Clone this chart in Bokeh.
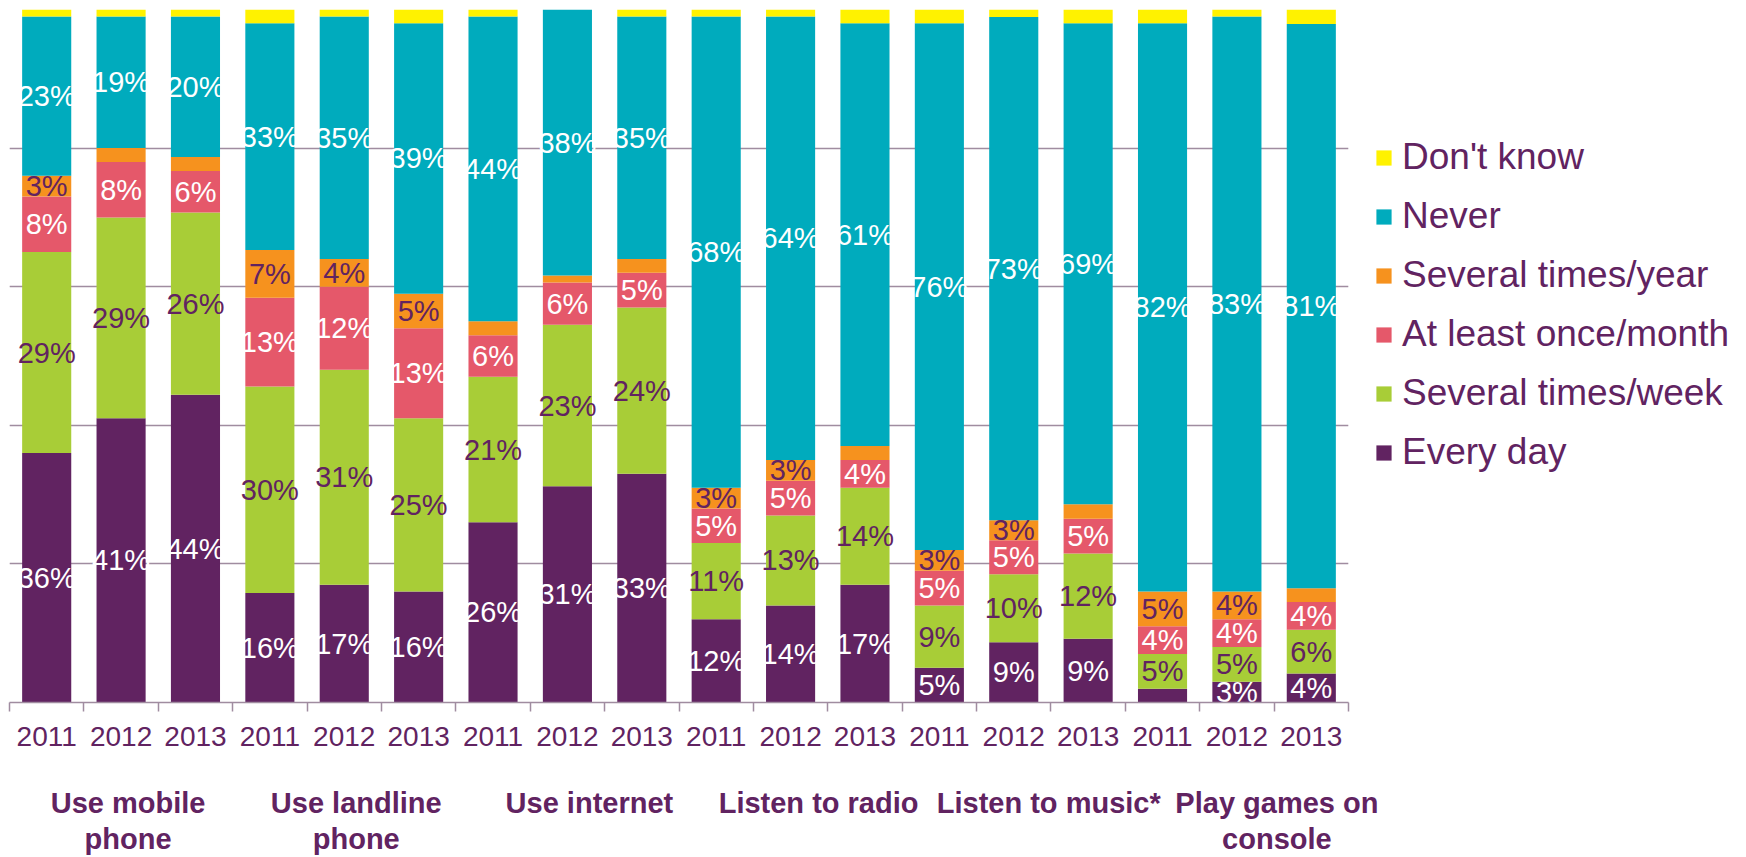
import numpy as np
from bokeh.plotting import figure
from bokeh.models import ColumnDataSource, Range1d, LinearAxis, FixedTicker, Legend, LegendItem, Grid
from bokeh.embed import file_html
from bokeh.resources import INLINE
from bokeh.core.properties import value

# ---------------- data ----------------
groups = ["Use mobile\nphone", "Use landline\nphone", "Use internet",
          "Listen to radio", "Listen to music*", "Play games on\nconsole"]
years = ["2011", "2012", "2013"]

series_names = ["Every day", "Several times/week", "At least once/month",
                "Several times/year", "Never", "Don't know"]

every_day      = [36, 41, 44.4, 15.8, 17, 16, 26, 31.2, 33, 12, 14, 17, 5, 8.7, 9.2, 2, 3, 4.2]
several_week   = [29, 29, 26.3, 29.8, 31, 25, 21, 23.3, 24, 11, 13, 14, 9, 9.8, 12.3, 5, 5, 6.3]
at_least_month = [8, 8, 6, 12.8, 12, 13, 6, 6.1, 5, 5, 5, 4, 5, 4.9, 5, 4, 4, 4]
several_year   = [3, 2, 2, 6.9, 4, 5, 2, 1, 2, 3, 3, 2, 3, 2.9, 2.1, 5, 4, 2]
never          = [23, 19, 20.3, 32.7, 35, 39, 44, 38.4, 35, 68, 64, 61, 76, 72.6, 69.4, 82, 83, 81.4]
dont_know      = [1, 1, 1, 2, 1, 2, 1, 0, 1, 1, 1, 2, 2, 1.1, 2, 2, 1, 2.1]

# ---------------- styling ----------------
PURPLE = "#612361"
colors = ["#612361", "#a8cd37", "#e5586a", "#f6921e", "#00abbd", "#fff200"]
label_colors = ["white", PURPLE, "white", PURPLE, "white", None]
GRID = "#a08ca0"
FONT = "Liberation Sans"

series = [every_day, several_week, at_least_month, several_year, never, dont_know]
keys = ["s%d" % i for i in range(len(series))]

n = len(every_day)
centers = [i + 0.5 for i in range(n)]
bounds = [float(i) for i in range(n + 1)]

data = dict(x=centers)
for k, s in zip(keys, series):
    data[k] = s
src = ColumnDataSource(data)

# data labels (shown for values of 3% and more)
lx, ly, lt, lc = [], [], [], []
bottom = np.zeros(n)
for s, c in zip(series, label_colors):
    s = np.array(s, dtype=float)
    for i in range(n):
        if c is not None and round(s[i]) >= 3:
            lx.append(centers[i])
            ly.append(float(bottom[i] + s[i] / 2))
            lt.append(f"{int(round(s[i]))}%")
            lc.append(c)
    bottom += s
lsrc = ColumnDataSource(dict(x=lx, y=ly, text=lt, color=lc))

FRAME_W = 1339
p = figure(frame_width=FRAME_W, height=857,
           x_range=Range1d(0, n), y_range=Range1d(0, 100),
           output_backend="svg", toolbar_location=None,
           y_axis_location=None,
           min_border_left=9, min_border_top=9, min_border_right=390, min_border_bottom=0)
p.outline_line_color = None
p.background_fill_color = "white"
p.xgrid.grid_line_color = None

ygrid = Grid(dimension=1, ticker=FixedTicker(ticks=[0, 20, 40, 60, 80, 100]),
             grid_line_color=GRID, grid_line_width=1.3)
p.add_layout(ygrid)

renderers = p.vbar_stack(keys, x="x", width=0.66, fill_color=colors,
                         line_color=None, source=src)

p.text(x="x", y="y", text="text", text_color="color", source=lsrc,
       text_align="center", text_baseline="middle",
       text_font=value(FONT), text_font_size="29px")

# year axis
xa = p.xaxis[0]
xa.ticker = FixedTicker(ticks=centers, minor_ticks=bounds)
xa.major_label_overrides = {c: years[i % 3] for i, c in enumerate(centers)}
xa.axis_line_color = GRID
xa.axis_line_width = 1.5
xa.major_tick_line_color = None
xa.major_tick_in = 0
xa.major_tick_out = 0
xa.minor_tick_line_color = GRID
xa.minor_tick_line_width = 1.5
xa.minor_tick_in = 0
xa.minor_tick_out = 9
xa.major_label_standoff = 15
xa.major_label_text_font = FONT
xa.major_label_text_font_size = "28px"
xa.major_label_text_color = PURPLE

# group axis (category names under the years)
group_offsets_px = [7, 12, 22, 28, 35, 40]
cat_px = FRAME_W / n
gpos = [3 * g + 1.5 + off / cat_px for g, off in enumerate(group_offsets_px)]
ga = LinearAxis(ticker=FixedTicker(ticks=gpos, minor_ticks=[]),
                major_label_overrides={gp: g for gp, g in zip(gpos, groups)})
ga.axis_line_color = None
ga.major_tick_line_color = None
ga.minor_tick_line_color = None
ga.major_tick_in = 0
ga.major_tick_out = 0
ga.major_label_standoff = 38
ga.major_label_text_font = FONT
ga.major_label_text_font_size = "29px"
ga.major_label_text_font_style = "bold"
ga.major_label_text_color = PURPLE
ga.major_label_text_line_height = 1.13
p.add_layout(ga, "below")

# legend
items = [LegendItem(label=name, renderers=[r])
         for name, r in reversed(list(zip(series_names, renderers)))]
legend = Legend(items=items, location=(26, 229))
legend.label_text_font = FONT
legend.label_text_font_size = "37px"
legend.label_text_color = PURPLE
legend.glyph_width = 19
legend.glyph_height = 19
legend.label_standoff = 9
legend.label_height = 42
legend.spacing = 17
legend.padding = 0
legend.margin = 0
legend.border_line_color = None
legend.background_fill_alpha = 0
p.add_layout(legend, "right")

open("out.html", "w").write(file_html(p, INLINE))
